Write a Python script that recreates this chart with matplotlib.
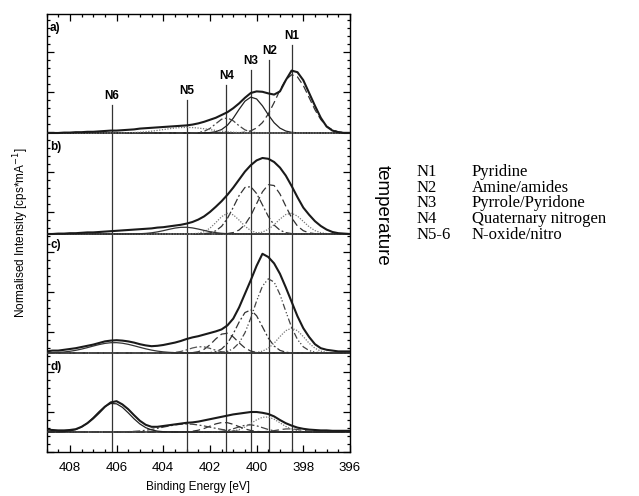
import numpy as np
import matplotlib.pyplot as plt
from matplotlib.ticker import MultipleLocator

plt.rcParams['font.family'] = ['Liberation Sans', 'DejaVu Sans']

# binding energy grid (eV), 0.25 eV steps from 409 down to 396
energy = np.linspace(409, 396, 53)

# measured N1s spectra, height above each panel's baseline (arb. units)
a_signal = [0.00, 0.00, 0.00, 0.05, 0.05, 0.10, 0.10, 0.15, 0.15, 0.20, 0.25, 0.30, 0.30,
            0.35, 0.40, 0.45, 0.55, 0.60, 0.65, 0.70, 0.75, 0.80, 0.85, 0.90, 0.95, 1.05,
            1.20, 1.40, 1.65, 1.90, 2.25, 2.60, 3.10, 3.70, 4.40, 5.00, 5.20, 5.15, 4.95,
            4.80, 5.20, 6.60, 7.80, 7.60, 6.60, 5.00, 3.40, 1.90, 0.80, 0.30, 0.10, 0.00, 0.00]
b_signal = [0.00, 0.00, 0.05, 0.05, 0.10, 0.10, 0.15, 0.20, 0.20, 0.25, 0.30, 0.35, 0.40,
            0.45, 0.50, 0.55, 0.60, 0.65, 0.70, 0.80, 0.85, 0.95, 1.05, 1.15, 1.30, 1.50,
            1.80, 2.20, 2.75, 3.40, 4.10, 4.90, 5.80, 6.80, 7.80, 8.60, 9.20, 9.50, 9.40,
            9.00, 8.30, 7.30, 6.00, 4.60, 3.30, 2.40, 1.60, 1.00, 0.55, 0.25, 0.10, 0.05, 0.00]
c_signal = [0.20, 0.30, 0.30, 0.40, 0.50, 0.60, 0.75, 0.90, 1.05, 1.25, 1.45, 1.55, 1.60,
            1.55, 1.45, 1.30, 1.10, 0.95, 0.85, 0.90, 1.00, 1.15, 1.30, 1.50, 1.75, 1.95,
            2.10, 2.30, 2.50, 2.70, 2.95, 3.45, 4.30, 5.70, 7.40, 9.10, 10.90, 12.40, 12.00,
            11.20, 9.90, 8.20, 6.40, 4.60, 3.10, 2.00, 1.10, 0.60, 0.40, 0.30, 0.20, 0.20, 0.20]
d_signal = [0.30, 0.25, 0.20, 0.20, 0.25, 0.35, 0.65, 1.10, 1.70, 2.40, 3.15, 3.70, 3.85,
            3.45, 2.85, 2.10, 1.40, 0.90, 0.65, 0.65, 0.75, 0.85, 0.95, 1.05, 1.15, 1.20,
            1.30, 1.45, 1.60, 1.75, 1.90, 2.05, 2.20, 2.30, 2.40, 2.50, 2.50, 2.40, 2.25,
            1.95, 1.50, 1.10, 0.80, 0.55, 0.40, 0.30, 0.25, 0.20, 0.20, 0.15, 0.15, 0.15, 0.15]
signals = [a_signal, b_signal, c_signal, d_signal]

# fitted components per panel: centre (eV), height, gaussian sigma (eV)
a_centres = [398.45, 400.2, 401.3, 403.0]
a_heights = [7.3, 4.5, 1.9, 0.7]
a_sigmas = [0.7, 0.6, 0.45, 1.0]
b_centres = [398.55, 399.4, 400.35, 401.2, 403.1]
b_heights = [2.6, 6.25, 6.0, 2.6, 0.85]
b_sigmas = [0.55, 0.6, 0.6, 0.5, 0.75]
c_centres = [398.5, 399.45, 400.3, 401.33, 402.4, 406.1]
c_heights = [3.1, 9.3, 5.4, 2.5, 0.8, 1.3]
c_sigmas = [0.55, 0.65, 0.55, 0.5, 0.5, 1.0]
d_centres = [398.6, 399.6, 400.3, 401.4, 403.0, 406.15]
d_heights = [0.4, 1.9, 0.9, 1.2, 1.0, 3.6]
d_sigmas = [0.5, 0.6, 0.55, 0.6, 1.0, 0.72]

panel_names = ['a)', 'b)', 'c)', 'd)']

# reference binding energies of the nitrogen species
species = ['N1', 'N2', 'N3', 'N4', 'N5', 'N6']
species_energy = [398.5, 399.45, 400.25, 401.3, 403.0, 406.2]

legend_keys = ['N1', 'N2', 'N3', 'N4', 'N5-6']
legend_names = ['Pyridine', 'Amine/amides', 'Pyrrole/Pyridone',
                'Quaternary nitrogen', 'N-oxide/nitro']

# styles / layout
baselines = [39.875, 27.25, 12.375, 2.5]
label_y = [53.0, 38.1, 25.9, 10.6]
line_tops = [50.9, 49.0, 47.8, 45.9, 44.0, 43.4]
dash = (0, (6, 3))
dashdot = (0, (6, 2, 1.5, 2))
dashdotdot = (0, (5, 2, 1, 1.5, 1, 2))
dots = (0, (1, 1.2))
comp_styles = [
    [(dash, '#333333'), ('-', '#222222'), (dashdot, '#444444'), (dots, '#777777')],
    [(dots, '#777777'), (dash, '#333333'), (dashdot, '#333333'), (dots, '#777777'), ('-', '#333333')],
    [(dots, '#777777'), (dashdotdot, '#444444'), (dashdot, '#333333'), (dash, '#333333'),
     (dashdot, '#555555'), ('-', '#333333')],
    [(dash, '#444444'), (dots, '#777777'), (dashdot, '#444444'), (dash, '#333333'),
     (dashdot, '#444444'), ('-', '#222222')],
]
centres = [a_centres, b_centres, c_centres, d_centres]
heights = [a_heights, b_heights, c_heights, d_heights]
sigmas = [a_sigmas, b_sigmas, c_sigmas, d_sigmas]

fig = plt.figure(figsize=(6.39, 4.96), dpi=100)
ax = fig.add_axes([0.0728, 0.0887, 0.4749, 0.8831])

for i in range(4):
    base = baselines[i]
    ax.axhline(base, color='#111111', lw=1.1, zorder=3)
    for c, h, s, (ls, col) in zip(centres[i], heights[i], sigmas[i], comp_styles[i]):
        comp = h * np.exp(-(energy - c) ** 2 / (2 * s ** 2))
        ax.plot(energy, base + comp, ls=ls, color=col, lw=0.9, zorder=4)
    ax.plot(energy, base + np.array(signals[i]), color='#1a1a1a', lw=1.5, zorder=5)
    ax.text(408.85, label_y[i], panel_names[i], fontsize=8.5, fontweight='bold',
            ha='left', va='center')

for name, e, top in zip(species, species_energy, line_tops):
    ax.plot([e, e], [0, top], color='#333333', lw=0.9, zorder=2)
    ax.text(e, top + 0.35, name, fontsize=8.5, fontweight='bold', ha='center', va='bottom')

ax.set_xlim(409, 396)
ax.set_ylim(0, 54.75)
ax.xaxis.set_major_locator(MultipleLocator(2))
ax.xaxis.set_minor_locator(MultipleLocator(0.5))
ax.yaxis.set_major_locator(MultipleLocator(5))
ax.yaxis.set_minor_locator(MultipleLocator(1))
ax.tick_params(which='both', direction='in', top=True, right=True, width=0.9)
ax.tick_params(which='major', length=5, labelsize=9.5, pad=7.5)
ax.tick_params(which='minor', length=2.5)
ax.tick_params(axis='y', labelleft=False)
for sp in ax.spines.values():
    sp.set_linewidth(1.0)
ax.set_xlabel('Binding Energy [eV]', fontsize=8.5, labelpad=5)
ax.set_ylabel(r'Normalised Intensity [cps*mA$^{-1}$]', fontsize=8.5)
ax.yaxis.set_label_coords(-0.051, 0.5)

fig.text(0.598, 0.566, 'temperature', rotation=-90, fontsize=13.5,
         ha='center', va='center')
row_y = [171.7, 187.5, 203.3, 219.1, 234.9]
for key, name, y in zip(legend_keys, legend_names, row_y):
    fig.text(416.7 / 639, 1 - y / 496, key, family='Liberation Serif', fontsize=12,
             ha='left', va='center')
    fig.text(471.7 / 639, 1 - y / 496, name, family='Liberation Serif', fontsize=12,
             ha='left', va='center')

fig.savefig('out.png', dpi=100)
